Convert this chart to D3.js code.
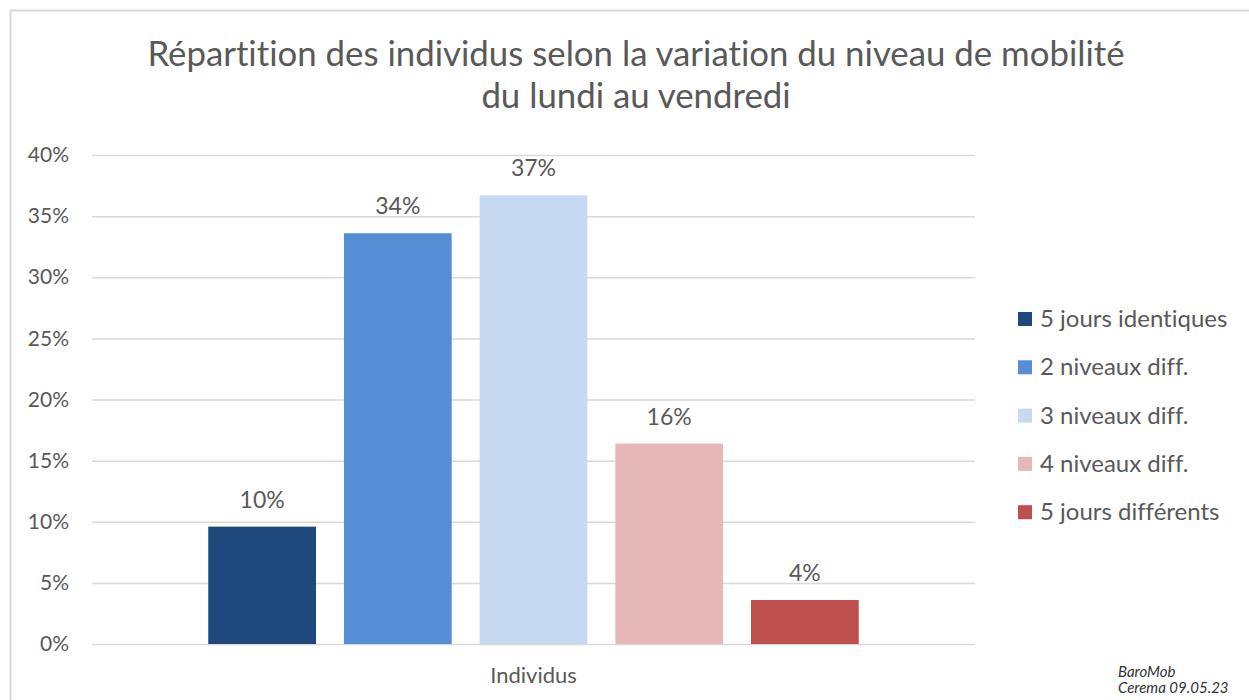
<!DOCTYPE html>
<html>
<head>
<meta charset="utf-8">
<script src="https://cdn.jsdelivr.net/npm/d3@7"></script>
<style>
  body { margin: 0; background: #fff; }
  text { font-family: Lato, "Open Sans", sans-serif; fill: #595959; font-variant-ligatures: none; }
</style>
</head>
<body>
<div id="chart"></div>
<script>
// data
var categories = ['Individus'];
var series = ['5 jours identiques', '2 niveaux diff.', '3 niveaux diff.', '4 niveaux diff.', '5 jours différents'];
var values = [0.096, 0.336, 0.367, 0.164, 0.036];
var colors = ['#1f497d', '#558ed5', '#c6d9f1', '#e6b9b8', '#c0504d'];
var yTicks = [0, 0.05, 0.1, 0.15, 0.2, 0.25, 0.3, 0.35, 0.4];
var titleLines = ['Répartition des individus selon la variation du niveau de mobilité', 'du lundi au vendredi'];
var sourceLines = ['BaroMob', 'Cerema 09.05.23'];

var width = 1249, height = 700;
var plot = { left: 92, right: 975, top: 155, bottom: 644 };

var svg = d3.select('#chart')
  .append('svg')
  .attr('width', width)
  .attr('height', height);

// chart frame
svg.append('rect')
  .attr('x', 10.5)
  .attr('y', 10.5)
  .attr('width', width + 20)
  .attr('height', height + 20)
  .style('fill', 'none')
  .style('stroke', '#d9d9d9')
  .style('stroke-width', 2);

// title
svg.append('g')
  .selectAll('text')
  .data(titleLines)
  .enter()
  .append('text')
  .attr('x', 636)
  .attr('y', (d, i) => 66 + i * 42)
  .attr('text-anchor', 'middle')
  .style('font-size', '34.8px')
  .text(d => d);

var y = d3.scaleLinear()
  .domain([0, 0.4])
  .range([plot.bottom, plot.top]);

var x0 = d3.scaleBand()
  .domain(categories)
  .range([plot.left, plot.right])
  .paddingOuter(0.125);

var x1 = d3.scaleBand()
  .domain(series)
  .range([0, x0.bandwidth()])
  .padding(0.206);

// gridlines + y axis labels
var yAxis = d3.axisLeft(y)
  .tickValues(yTicks)
  .tickFormat(d3.format('.0%'))
  .tickSize(-(plot.right - plot.left))
  .tickPadding(23);

var gy = svg.append('g')
  .attr('transform', `translate(${plot.left},0)`)
  .call(yAxis);
gy.select('.domain').remove();
gy.selectAll('line')
  .style('stroke', '#d9d9d9')
  .style('stroke-width', 1.5);
gy.selectAll('text')
  .style('font-size', '21px')
  .style('font-family', 'Lato, sans-serif')
  .style('fill', '#595959');

// x axis label
var gx = svg.append('g')
  .attr('transform', `translate(0,${plot.bottom})`)
  .call(d3.axisBottom(x0).tickSize(0).tickPadding(23));
gx.select('.domain').remove();
gx.selectAll('text')
  .style('font-size', '22px')
  .style('font-family', 'Lato, sans-serif')
  .style('fill', '#595959');

// bars
var group = svg.append('g')
  .selectAll('g.group')
  .data(categories)
  .enter()
  .append('g')
  .attr('class', 'group')
  .attr('transform', d => `translate(${x0(d)},0)`);

var barData = series.map((s, i) => ({ name: s, value: values[i], color: colors[i] }));

group.selectAll('rect.bar')
  .data(barData)
  .enter()
  .append('rect')
  .attr('class', 'bar')
  .attr('x', d => x1(d.name))
  .attr('width', x1.bandwidth())
  .attr('y', d => y(d.value))
  .attr('height', d => y(0) - y(d.value))
  .style('fill', d => d.color);

group.selectAll('text.label')
  .data(barData)
  .enter()
  .append('text')
  .attr('class', 'label')
  .attr('x', d => x1(d.name) + x1.bandwidth() / 2)
  .attr('y', d => y(d.value) - 19)
  .attr('text-anchor', 'middle')
  .style('font-size', '23px')
  .text(d => d3.format('.0%')(d.value));

// legend
var legend = svg.append('g')
  .attr('transform', 'translate(1018,319)');

var item = legend.selectAll('g.item')
  .data(barData)
  .enter()
  .append('g')
  .attr('class', 'item')
  .attr('transform', (d, i) => `translate(0,${i * 48.3})`);

item.append('rect')
  .attr('x', 0)
  .attr('y', -7)
  .attr('width', 14)
  .attr('height', 14)
  .style('fill', d => d.color);

item.append('text')
  .attr('x', 22)
  .attr('y', 8)
  .style('font-size', '24px')
  .text(d => d.name);

// source note
svg.append('g')
  .selectAll('text')
  .data(sourceLines)
  .enter()
  .append('text')
  .attr('x', 1118)
  .attr('y', (d, i) => 677 + i * 16)
  .style('font-size', '15px')
  .style('font-style', 'italic')
  .style('fill', '#333')
  .text(d => d);
</script>
</body>
</html>
